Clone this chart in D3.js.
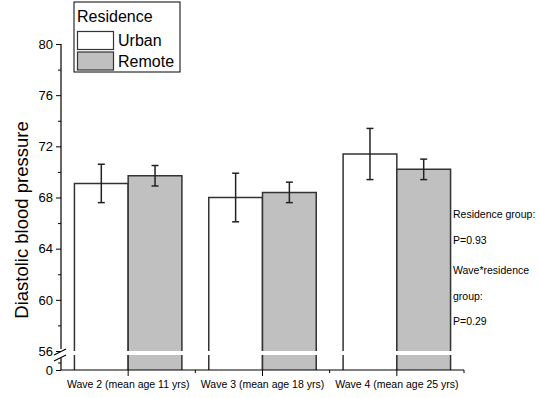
<!DOCTYPE html>
<html>
<head>
<meta charset="utf-8">
<script src="https://cdn.jsdelivr.net/npm/d3@7/dist/d3.min.js"></script>
<style>
  html, body { margin: 0; padding: 0; background: #fff; }
  svg { display: block; }
  text { font-family: Arial, "Liberation Sans", sans-serif; fill: #000; }
</style>
</head>
<body>
<svg id="chart" width="539" height="398"></svg>
<script>
// Diastolic blood pressure by survey wave and residence (mean ± error)
const waves = ["Wave 2 (mean age 11 yrs)", "Wave 3 (mean age 18 yrs)", "Wave 4 (mean age 25 yrs)"];
const groups = ["Urban", "Remote"];
const urbanMean = [69.1, 68.0, 71.4];
const urbanErr = [1.5, 1.9, 2.0];
const remoteMean = [69.7, 68.4, 70.2];
const remoteErr = [0.8, 0.8, 0.8];
const yMajorTicks = [56, 60, 64, 68, 72, 76, 80];
const yMinorTicks = [58, 62, 66, 70, 74, 78];
const lowerTicks = [0];
const lowerMinorTicks = [1];
const legendTitle = "Residence";
const notes = ["Residence group:", "P=0.93", "Wave*residence", "group:", "P=0.29"];

const svg = d3.select("#chart");
const fillColor = { Urban: "#ffffff", Remote: "#c0c0c0" };

// Layout
const left = 61, right = 464;
const upperTop = 44, upperBottom = 351;   // 56..80
const lowerTop = 355, lowerBottom = 370;  // 0..2 (broken segment)

const x = d3.scaleBand().domain(waves).range([left, right]).paddingInner(0.2).paddingOuter(0.1);
const xg = d3.scaleBand().domain(groups).range([0, x.bandwidth()]);
const y = d3.scaleLinear().domain([56, 80]).range([upperBottom, upperTop]);
const y0 = d3.scaleLinear().domain([0, 2]).range([lowerBottom, lowerTop]);

const rows = [];
waves.forEach((w, i) => {
  rows.push({ wave: w, group: "Urban", mean: urbanMean[i], err: urbanErr[i] });
  rows.push({ wave: w, group: "Remote", mean: remoteMean[i], err: remoteErr[i] });
});

// Bars: upper part above the break, lower part below the break
const bars = svg.append("g");
rows.forEach(d => {
  const bx = x(d.wave) + xg(d.group);
  const bw = xg.bandwidth();
  bars.append("rect")
    .attr("x", bx).attr("y", y(d.mean))
    .attr("width", bw).attr("height", y(56) - y(d.mean))
    .attr("fill", fillColor[d.group]);
  bars.append("rect")
    .attr("x", bx).attr("y", y0(2))
    .attr("width", bw).attr("height", y0(0) - y0(2))
    .attr("fill", fillColor[d.group]);
  // outline (open at the break)
  const pathUp = d3.path();
  pathUp.moveTo(bx, y(56)); pathUp.lineTo(bx, y(d.mean));
  pathUp.lineTo(bx + bw, y(d.mean)); pathUp.lineTo(bx + bw, y(56));
  bars.append("path").attr("d", pathUp.toString())
    .attr("fill", "none").attr("stroke", "#333").attr("stroke-width", 1.5);
  const pathLo = d3.path();
  pathLo.moveTo(bx, y0(2)); pathLo.lineTo(bx, y0(0));
  pathLo.moveTo(bx + bw, y0(2)); pathLo.lineTo(bx + bw, y0(0));
  bars.append("path").attr("d", pathLo.toString())
    .attr("fill", "none").attr("stroke", "#333").attr("stroke-width", 1.5);
});

// Error bars
const eb = svg.append("g").attr("stroke", "#222").attr("stroke-width", 1.5);
rows.forEach(d => {
  const cx = x(d.wave) + xg(d.group) + xg.bandwidth() / 2;
  const hi = y(d.mean + d.err), lo = y(d.mean - d.err);
  eb.append("line").attr("x1", cx).attr("x2", cx).attr("y1", hi).attr("y2", lo);
  eb.append("line").attr("x1", cx - 3.5).attr("x2", cx + 3.5).attr("y1", hi).attr("y2", hi);
  eb.append("line").attr("x1", cx - 3.5).attr("x2", cx + 3.5).attr("y1", lo).attr("y2", lo);
});

// Y axis (upper segment)
const yAxis = svg.append("g").attr("transform", `translate(${left},0)`)
  .call(d3.axisLeft(y).tickValues(yMajorTicks).tickSize(5).tickSizeOuter(0).tickPadding(3));
svg.append("g").attr("transform", `translate(${left},0)`)
  .call(d3.axisLeft(y).tickValues(yMinorTicks).tickSize(3).tickFormat("").tickSizeOuter(0))
  .select(".domain").remove();
yAxis.select(".domain").attr("d", `M0,${upperTop}V${upperBottom - 2}`);

// Y axis (lower segment)
const yAxisLo = svg.append("g").attr("transform", `translate(${left},0)`)
  .call(d3.axisLeft(y0).tickValues(lowerTicks).tickFormat(d3.format("d"))
    .tickSize(5).tickSizeOuter(0).tickPadding(3));
yAxisLo.select(".domain").attr("d", `M0,${lowerTop + 3}V${lowerBottom}`);
svg.append("g").attr("transform", `translate(${left},0)`)
  .call(d3.axisLeft(y0).tickValues(lowerMinorTicks).tickSize(3).tickFormat(""))
  .select(".domain").remove();

[yAxis, yAxisLo].forEach(g => {
  g.selectAll("text").attr("font-size", 13).attr("font-family", "Arial, 'Liberation Sans', sans-serif");
});
svg.selectAll(".tick line").attr("stroke", "#000");

// Break marks
const brk = svg.append("g").attr("stroke", "#000").attr("stroke-width", 1.2);
[upperBottom + 1, lowerTop + 3].forEach(cy => {
  brk.append("line").attr("x1", left - 7).attr("y1", cy + 3).attr("x2", left + 5).attr("y2", cy - 3);
});

// X axis
const xAxis = svg.append("g").attr("transform", `translate(0,${lowerBottom})`)
  .call(d3.axisBottom(x).tickSize(6).tickSizeOuter(0).tickPadding(5));
xAxis.select(".domain").attr("d", `M${left},0H${right}`);
xAxis.selectAll("text").attr("font-size", 10.5);
const minorX = waves.slice(1).map(w => x(w) - x.step() * x.paddingInner() / 2);
minorX.push(right);
svg.append("g").selectAll("line").data(minorX).join("line")
  .attr("x1", d => d).attr("x2", d => d)
  .attr("y1", lowerBottom).attr("y2", lowerBottom + 3)
  .attr("stroke", "#000");
svg.selectAll(".domain").attr("stroke", "#000").attr("stroke-width", 1.2);

// Y axis title
svg.append("text")
  .attr("transform", `translate(28,220) rotate(-90)`)
  .attr("text-anchor", "middle")
  .attr("font-size", 18.5)
  .text("Diastolic blood pressure");

// Legend
const lg = svg.append("g");
lg.append("rect").attr("x", 74).attr("y", 2).attr("width", 106).attr("height", 70)
  .attr("fill", "#fff").attr("stroke", "#000").attr("stroke-width", 1);
lg.append("text").attr("x", 77).attr("y", 22).attr("font-size", 16).text(legendTitle);
groups.forEach((g, i) => {
  lg.append("rect").attr("x", 77.5).attr("y", 31.5 + i * 20.5).attr("width", 36).attr("height", 18)
    .attr("fill", fillColor[g]).attr("stroke", "#333").attr("stroke-width", 1.2);
  lg.append("text").attr("x", 118).attr("y", 46 + i * 20.5).attr("font-size", 16).text(g);
});

// Statistical notes
const noteY = [218, 244, 274, 300, 325];
svg.append("g").selectAll("text").data(notes).join("text")
  .attr("x", 453).attr("y", (d, i) => noteY[i])
  .attr("font-size", 10.5)
  .text(d => d);
</script>
</body>
</html>
